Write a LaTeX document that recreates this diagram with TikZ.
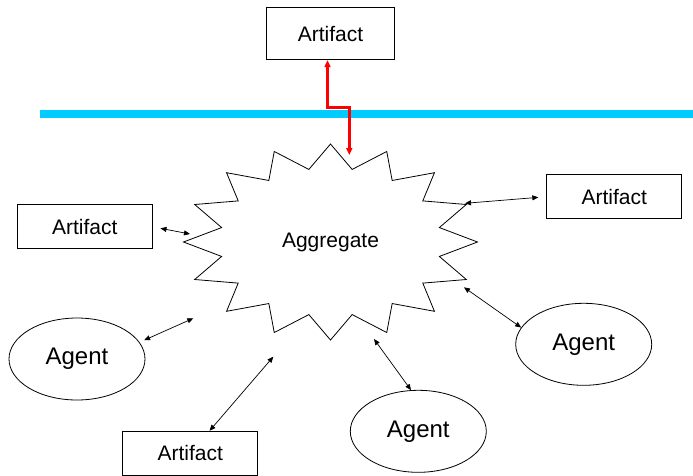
\documentclass[tikz,border=0pt]{standalone}
\usepackage{fontspec}
\setmainfont{Liberation Sans}
\usetikzlibrary{shapes.geometric,arrows.meta}
\definecolor{skyline}{HTML}{00CCFF}

\begin{document}
\begin{tikzpicture}[x=1pt,y=-1pt,
  box/.style={draw,line width=0.8pt,inner sep=0pt,minimum width=135pt,minimum height=44pt,font=\fontsize{21}{25}\selectfont},
  agent/.style={draw,ellipse,line width=0.8pt,inner sep=0pt,minimum width=136pt,minimum height=82pt,font=\fontsize{24}{29}\selectfont},
  link/.style={{Triangle[length=6pt,width=5pt]}-{Triangle[length=6pt,width=5pt]},line width=0.7pt},
  redlink/.style={{Triangle[length=7pt,width=6pt]}-{Triangle[length=7pt,width=6pt]},line width=2.6pt,red}]
				\clip (0,0) rectangle (693,475);
				\draw [line width=8pt,skyline] (39.5,113.5) -- (693,113.5);

				\draw [line width=0.8pt,shift={(330.5,242)}] (90:147 and 98)
					\foreach \a in {0,22.5,...,337.5} {-- (101.25+\a:111 and 74) -- (112.5+\a:147 and 98)} -- cycle;
				\node (agg) at (330.5,242) {\fontsize{21}{25}\selectfont Aggregate};

				\node [box,minimum width=128pt,minimum height=52pt] (artT) at (330.5,33.7) {Artifact};
				\node [box] (artL) at (84.7,226.8) {Artifact};
				\node [box] (artR) at (614.2,196.7) {Artifact};
				\node [box] (artB) at (190.3,453.2) {Artifact};

				\node [agent] (agentL) at (77,359) {Agent};
				\node [agent] (agentR) at (583.7,344.3) {Agent};
				\node [agent] (agentB) at (418.3,431.3) {Agent};

				\coordinate (c1) at (190,234);
				\coordinate (c2) at (193.3,318.3);
				\coordinate (c3) at (273.3,356.7);
				\coordinate (c4) at (374,339);
				\coordinate (c5) at (464,287.3);
				\coordinate (c6) at (465,203.3);
				\coordinate (bend) at (349.3,107.7);
				\coordinate (hit) at (349.3,155);

				\draw [redlink] ([xshift=-3pt]artT.south) |- (bend) -- (hit);

				\path [link] (artL.east) edge[shorten <=8pt] (c1);
				\path [link] (agentL.15) edge[shorten <=5pt] (c2);
				\path [link] (artB) edge (c3);
				\path [link] (agentB.100) edge (c4);
				\path [link] (agentR.165) edge (c5);
				\path [link] (artR.west) edge[shorten <=8pt] (c6);
			\end{tikzpicture}
\end{document}
